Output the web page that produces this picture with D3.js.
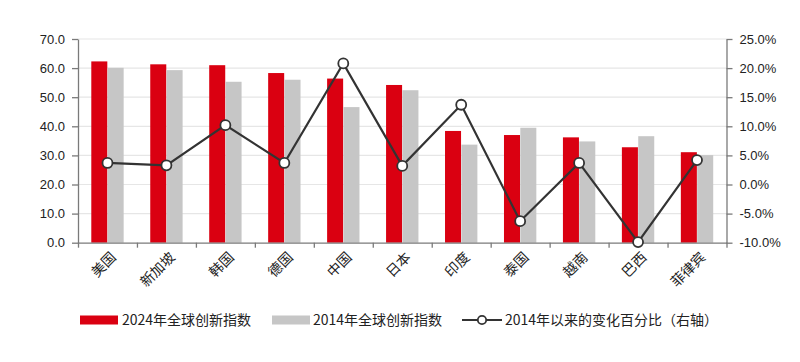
<!DOCTYPE html>
<html>
<head>
<meta charset="utf-8">
<script src="https://cdn.jsdelivr.net/npm/d3@7"></script>
<style>
  body { margin: 0; background: #fff; }
  svg { display: block; font-family: "Liberation Sans", Arial, sans-serif; }
  .cjk { font-family: "Noto Sans CJK SC", sans-serif; }
</style>
</head>
<body>
<script>
(function() {
    // data
    var countries = ["美国", "新加坡", "韩国", "德国", "中国", "日本", "印度", "泰国", "越南", "巴西", "菲律宾"];
    var index2024 = [62.3, 61.3, 61.0, 58.3, 56.4, 54.2, 38.4, 37.0, 36.2, 32.8, 31.1];
    var index2014 = [60.1, 59.3, 55.3, 56.0, 46.6, 52.4, 33.7, 39.5, 34.8, 36.6, 30.1];
    var changePct = [3.7, 3.3, 10.2, 3.7, 20.8, 3.2, 13.7, -6.3, 3.7, -9.9, 4.2];
    var leftTicks = [0, 10, 20, 30, 40, 50, 60, 70];
    var rightTicks = [-10, -5, 0, 5, 10, 15, 20, 25];
    var seriesNames = ["2024年全球创新指数", "2014年全球创新指数", "2014年以来的变化百分比（右轴）"];

    // settings
    var width = 800, height = 362;
    var plot = { left: 78, right: 726.5, top: 39, bottom: 242.7 };
    var colors = { red: "#da0011", grey: "#c6c6c6", line: "#333333", grid: "#e6e6e6", axis: "#7a7a7a", text: "#222" };

    var svg = d3.select("body").append("svg")
        .attr("width", width)
        .attr("height", height);

    // scales
    var x0 = d3.scaleBand()
        .domain(countries)
        .range([plot.left, plot.right])
        .paddingInner(0.44)
        .paddingOuter(0.22);
    var x1 = d3.scaleBand()
        .domain(["a", "b"])
        .range([0, x0.bandwidth()])
        .padding(0.02);
    var xEdge = d3.scaleLinear()
        .domain([0, countries.length])
        .range([plot.left, plot.right]);
    var yL = d3.scaleLinear().domain([0, 70]).range([plot.bottom, plot.top]);
    var yR = d3.scaleLinear().domain([-10, 25]).range([plot.bottom, plot.top]);

    // gridlines
    svg.append("g")
        .selectAll("line")
        .data(leftTicks.slice(1))
        .enter().append("line")
        .attr("x1", plot.left)
        .attr("x2", plot.right)
        .attr("y1", function(d) { return yL(d); })
        .attr("y2", function(d) { return yL(d); })
        .attr("stroke", colors.grid)
        .attr("stroke-width", 1.2);

    // bars
    var groups = svg.append("g")
        .selectAll("g")
        .data(countries)
        .enter().append("g")
        .attr("transform", function(d) { return "translate(" + x0(d) + ",0)"; });

    groups.append("rect")
        .attr("x", x1("a"))
        .attr("width", x1.bandwidth())
        .attr("y", function(d, i) { return yL(index2024[i]); })
        .attr("height", function(d, i) { return yL(0) - yL(index2024[i]); })
        .attr("fill", colors.red);

    groups.append("rect")
        .attr("x", x1("b"))
        .attr("width", x1.bandwidth())
        .attr("y", function(d, i) { return yL(index2014[i]); })
        .attr("height", function(d, i) { return yL(0) - yL(index2014[i]); })
        .attr("fill", colors.grey);

    // axes
    function styleAxis(g) {
        g.selectAll(".domain").attr("stroke", colors.axis).attr("stroke-width", 1.3);
        g.selectAll(".tick line").attr("stroke", colors.axis).attr("stroke-width", 1.3);
        g.selectAll(".tick text").attr("fill", colors.text).style("font-size", "13px");
    }

    svg.append("g")
        .attr("transform", "translate(" + plot.left + ",0)")
        .call(d3.axisLeft(yL).tickValues(leftTicks).tickSize(6).tickSizeOuter(0).tickPadding(7)
            .tickFormat(function(d) { return d.toFixed(1); }))
        .call(styleAxis);

    svg.append("g")
        .attr("transform", "translate(" + plot.right + ",0)")
        .call(d3.axisRight(yR).tickValues(rightTicks).tickSize(6).tickSizeOuter(0).tickPadding(7)
            .tickFormat(function(d) { return d.toFixed(1) + "%"; }))
        .call(styleAxis);

    svg.append("g")
        .attr("transform", "translate(0," + plot.bottom + ")")
        .call(d3.axisBottom(xEdge).tickValues(d3.range(countries.length + 1)).tickSize(5).tickSizeOuter(0)
            .tickFormat(""))
        .call(styleAxis);

    // category labels
    svg.append("g")
        .selectAll("text")
        .data(countries)
        .enter().append("text")
        .attr("class", "cjk")
        .attr("transform", function(d) {
            return "translate(" + (x0(d) + x0.bandwidth() / 2 + 6) + "," + (plot.bottom + 12) + ") rotate(-45)";
        })
        .attr("text-anchor", "end")
        .attr("dy", "0.35em")
        .attr("fill", colors.text)
        .style("font-size", "14px")
        .text(function(d) { return d; });

    // change line
    var lineGen = d3.line()
        .x(function(d, i) { return x0(countries[i]) + x0.bandwidth() / 2; })
        .y(function(d) { return yR(d); });

    svg.append("path")
        .datum(changePct)
        .attr("d", lineGen)
        .attr("fill", "none")
        .attr("stroke", colors.line)
        .attr("stroke-width", 2.2);

    svg.append("g")
        .selectAll("circle")
        .data(changePct)
        .enter().append("circle")
        .attr("cx", function(d, i) { return x0(countries[i]) + x0.bandwidth() / 2; })
        .attr("cy", function(d) { return yR(d); })
        .attr("r", 5)
        .attr("fill", "#fff")
        .attr("stroke", colors.line)
        .attr("stroke-width", 1.8);

    // legend
    var legend = svg.append("g").attr("transform", "translate(0,320)");
    var items = [
        { x: 80, type: "rect", color: colors.red, textX: 122 },
        { x: 272, type: "rect", color: colors.grey, textX: 313 },
        { x: 462, type: "line", color: colors.line, textX: 505 }
    ];
    items.forEach(function(it, i) {
        if (it.type === "rect") {
            legend.append("rect")
                .attr("x", it.x).attr("y", -4.5)
                .attr("width", 38).attr("height", 9)
                .attr("fill", it.color);
        } else {
            legend.append("line")
                .attr("x1", it.x).attr("x2", it.x + 40)
                .attr("y1", 0).attr("y2", 0)
                .attr("stroke", it.color).attr("stroke-width", 2.2);
            legend.append("circle")
                .attr("cx", it.x + 20).attr("cy", 0).attr("r", 4.2)
                .attr("fill", "#fff").attr("stroke", it.color).attr("stroke-width", 1.8);
        }
        legend.append("text")
            .attr("class", "cjk")
            .attr("x", it.textX)
            .attr("y", 0)
            .attr("dy", "0.35em")
            .attr("fill", colors.text)
            .style("font-size", "14px")
            .text(seriesNames[i]);
    });
})();
</script>
</body>
</html>
